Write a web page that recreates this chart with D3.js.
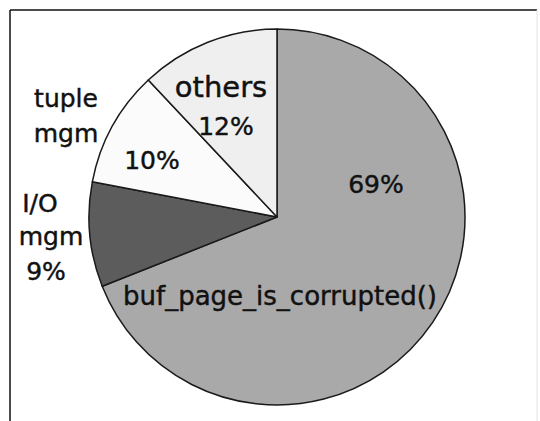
<!DOCTYPE html>
<html>
<head>
<meta charset="utf-8">
<script src="https://cdn.jsdelivr.net/npm/d3@7"></script>
<style>
  html, body { margin: 0; padding: 0; background: #fff; }
  svg { display: block; }
  text { font-family: "DejaVu Sans", sans-serif; fill: #111; stroke: #111; stroke-width: 0.45px; }
</style>
</head>
<body>
<script>
// Share of time per component, clockwise from 12 o'clock
const categories = ["buf_page_is_corrupted()", "I/O mgm", "tuple mgm", "others"];
const shares = [69, 9, 10, 12];
const fills = ["#a9a9a9", "#5c5c5c", "#fbfbfb", "#efefef"];

// Label lines per slice: [text, x, baseline y, font size]
const labelLines = [
  [["69%", 376, 193, 25], ["buf_page_is_corrupted()", 280, 305, 26]],
  [["I/O", 40, 212, 25], ["mgm", 51, 245, 25], ["9%", 46, 280, 25]],
  [["tuple", 66, 107, 25], ["mgm", 66, 142, 25], ["10%", 152, 169, 25]],
  [["others", 221, 97, 29], ["12%", 226, 135, 25]]
];

const W = 540, H = 421;
const cx = 277, cy = 217, R = 188;

const svg = d3.select("body").append("svg")
  .attr("width", W).attr("height", H);

// frame
svg.append("line").attr("x1", 10).attr("y1", 10).attr("x2", 537).attr("y2", 10)
  .attr("stroke", "#111").attr("stroke-width", 1.5);
svg.append("line").attr("x1", 10).attr("y1", 10).attr("x2", 10).attr("y2", H)
  .attr("stroke", "#111").attr("stroke-width", 1.5);
svg.append("line").attr("x1", 537).attr("y1", 10).attr("x2", 537).attr("y2", H)
  .attr("stroke", "#e4e4e4").attr("stroke-width", 1);

const pie = d3.pie().sort(null).value(d => d.v).startAngle(0).endAngle(2 * Math.PI);
const arc = d3.arc().innerRadius(0).outerRadius(R);
const data = categories.map((c, i) => ({ c, v: shares[i], fill: fills[i] }));

const g = svg.append("g").attr("transform", `translate(${cx},${cy})`);
g.selectAll("path").data(pie(data)).join("path")
  .attr("d", arc)
  .attr("fill", d => d.data.fill)
  .attr("stroke", "#1a1a1a")
  .attr("stroke-width", 1.5)
  .attr("stroke-linejoin", "round");

const lab = svg.append("g").attr("text-anchor", "middle");
labelLines.forEach(lines => {
  lines.forEach(([t, x, y, fs]) => {
    lab.append("text").attr("x", x).attr("y", y).attr("font-size", fs).text(t);
  });
});
</script>
</body>
</html>
